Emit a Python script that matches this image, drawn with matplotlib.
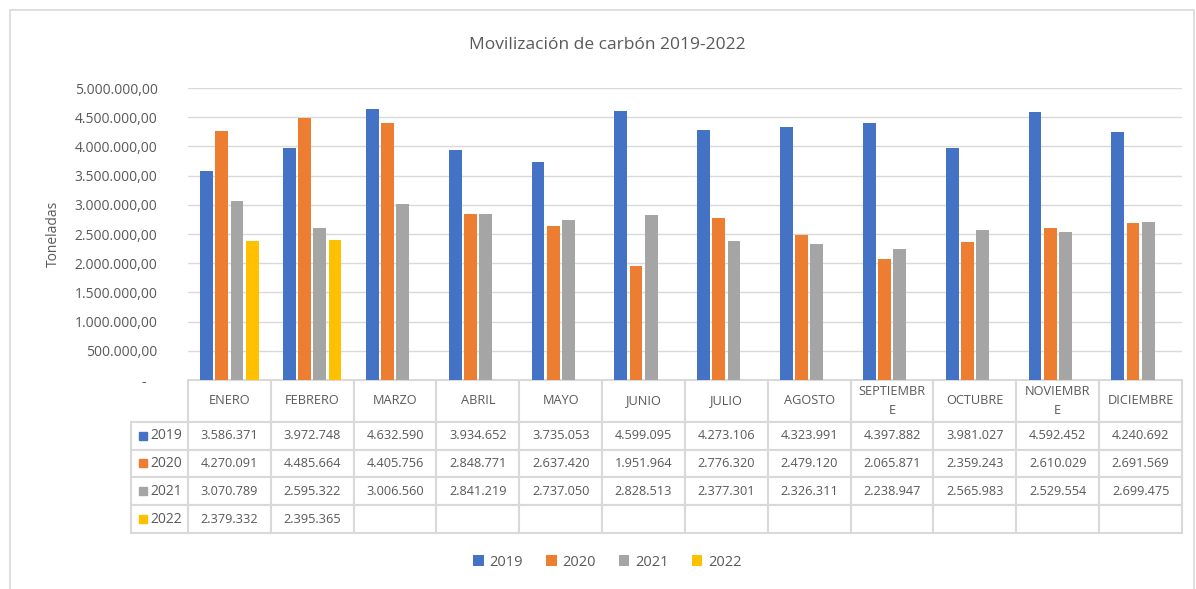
import numpy as np
import matplotlib.pyplot as plt
from matplotlib.patches import Patch, Rectangle

plt.rcParams['font.family'] = ['Open Sans', 'DejaVu Sans']

months = ['ENERO', 'FEBRERO', 'MARZO', 'ABRIL', 'MAYO', 'JUNIO', 'JULIO',
          'AGOSTO', 'SEPTIEMBRE', 'OCTUBRE', 'NOVIEMBRE', 'DICIEMBRE']
month_labels = ['ENERO', 'FEBRERO', 'MARZO', 'ABRIL', 'MAYO', 'JUNIO', 'JULIO',
                'AGOSTO', 'SEPTIEMBR\nE', 'OCTUBRE', 'NOVIEMBR\nE', 'DICIEMBRE']
years = ['2019', '2020', '2021', '2022']

v2019 = [3586371, 3972748, 4632590, 3934652, 3735053, 4599095,
         4273106, 4323991, 4397882, 3981027, 4592452, 4240692]
v2020 = [4270091, 4485664, 4405756, 2848771, 2637420, 1951964,
         2776320, 2479120, 2065871, 2359243, 2610029, 2691569]
v2021 = [3070789, 2595322, 3006560, 2841219, 2737050, 2828513,
         2377301, 2326311, 2238947, 2565983, 2529554, 2699475]
v2022 = [2379332, 2395365]

series = [v2019, v2020, v2021, v2022]
colors = ['#4472C4', '#ED7D31', '#A5A5A5', '#FFC000']
grid_c = '#D9D9D9'
txt_c = '#595959'


def fmt_int(v):
    return f'{v:,}'.replace(',', '.')


def fmt_axis(v):
    if v == 0:
        return '-   '
    return f'{v:,.2f}'.replace(',', '#').replace('.', ',').replace('#', '.')


fig = plt.figure(figsize=(11.96, 5.89), dpi=100)
fig.patches.append(Rectangle((0.008, -0.01), 0.99, 0.993, transform=fig.transFigure,
                             fill=False, edgecolor=grid_c, linewidth=1.2))
ax = fig.add_axes([188 / 1196, 1 - 380 / 589, 994 / 1196, 292 / 589])

x = np.arange(len(months))
width = 0.155
offsets = [-0.275, -0.092, 0.092, 0.275]
for vals, c, off in zip(series, colors, offsets):
    ax.bar(x[:len(vals)] + off, vals, width=width, color=c, zorder=3)

ax.set_xlim(-0.5, len(months) - 0.5)
ax.set_ylim(0, 5000000)
yt = np.arange(0, 5000001, 500000)
ax.set_yticks(yt)
ax.set_yticklabels([fmt_axis(v) for v in yt], color=txt_c, fontsize=10)
ax.tick_params(axis='y', length=0, pad=22)
ax.set_xticks([])
ax.grid(axis='y', color=grid_c, linewidth=1, zorder=0)
for s in ax.spines.values():
    s.set_visible(False)
ax.set_ylabel('Toneladas', color=txt_c, fontsize=10)
ax.yaxis.set_label_coords(-0.128, 0.5)
fig.text(607 / 1196, 1 - 45 / 589, 'Movilización de carbón 2019-2022',
         color=txt_c, fontsize=12.5, ha='center', va='center')

# data table under the plot
cell_text = []
for vals in series:
    row = [fmt_int(v) for v in vals] + [''] * (len(months) - len(vals))
    cell_text.append(row)

row_w = 57 / 994
col_w = 1 / 12
tb_h = 153 / 292
tbl = ax.table(cellText=cell_text, rowLabels=years, colLabels=month_labels,
               cellLoc='center', rowLoc='right', colLoc='center',
               bbox=[0, -tb_h, 1, tb_h])
tbl.auto_set_font_size(False)
# keep the fixed width of the row label column
if -1 in tbl._autoColumns:
    tbl._autoColumns.remove(-1)
for (r, c), cell in tbl.get_celld().items():
    cell.set_edgecolor(grid_c)
    cell.set_linewidth(1.5)
    cell.get_text().set_color(txt_c)
    cell.get_text().set_fontsize(9.2)
    cell.set_width(row_w if c == -1 else col_w)
    cell.set_height((42 if r == 0 else 28) / 292)
    if r == 0:
        cell.get_text().set_linespacing(1.6)
    if c == -1:
        cell.get_text().set_fontsize(10)

# colored keys in row label cells
for i, c in enumerate(colors):
    yc = -tb_h + tb_h * (1 - (42 + 28 * (i + 0.5)) / 154)
    ax.plot([(139 + 4 - 188) / 994], [yc], marker='s', markersize=6, color=c,
            transform=ax.transAxes, clip_on=False, linestyle='none')

handles = [Patch(facecolor=c, edgecolor='none') for c in colors]
fig.legend(handles, years, loc='center', bbox_to_anchor=(0.508, 1 - 562 / 589),
           ncol=4, frameon=False, fontsize=10.5, handlelength=0.7, handleheight=0.7,
           handletextpad=0.4, columnspacing=1.6, labelcolor=txt_c)

fig.savefig('out.png', dpi=100)
